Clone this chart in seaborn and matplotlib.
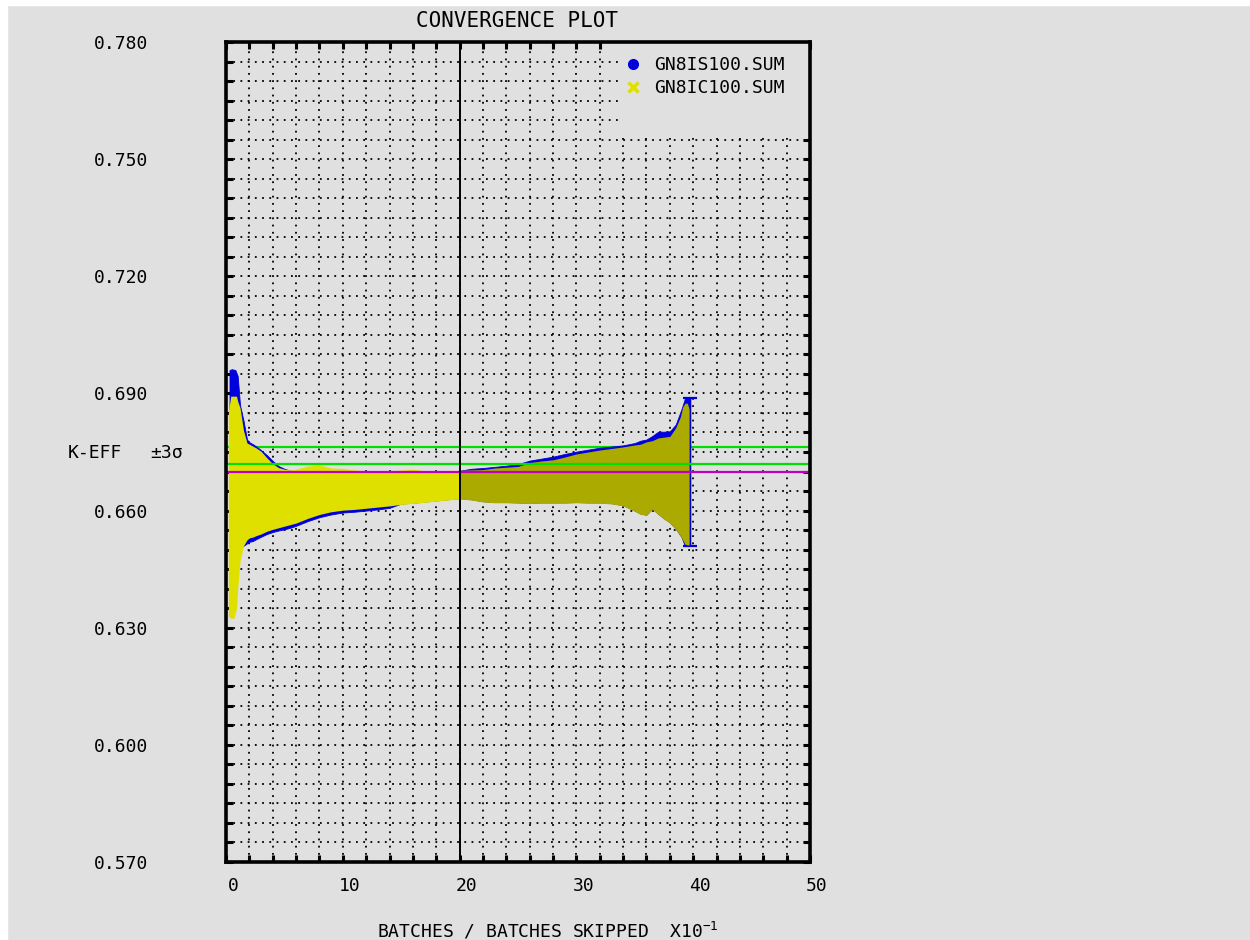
import numpy as np
import pandas as pd
import matplotlib
matplotlib.use("Agg")
import matplotlib.pyplot as plt
from matplotlib.lines import Line2D
from matplotlib.patches import Rectangle
from matplotlib.transforms import ScaledTranslation
import matplotlib.ticker as mticker
import seaborn as sns

# ---------------- data ----------------
series_names = ["GN8IS100.SUM", "GN8IC100.SUM"]

# GN8IS100.SUM  (blue) : k-eff  +/- 3 sigma envelope
is_x = [0.3, 0.5, 0.8, 1.0, 1.2, 1.5, 1.8, 2.0, 2.3, 2.6, 3.0, 3.5, 4.0, 4.5, 5.0, 5.5,
        6.0, 7.0, 8.0, 9.0, 10, 11, 12, 13, 14, 15, 16, 17, 18, 19, 20, 21, 22, 23, 24,
        25, 26, 27, 28, 29, 30, 31, 32, 33, 34, 35, 35.5, 36, 36.5, 37, 37.5, 38, 38.5,
        39.0, 39.3, 39.6, 39.75]
is_upper = [0.6960, 0.6962, 0.6960, 0.6945, 0.6870, 0.6830, 0.6782, 0.6775, 0.6770, 0.6764,
            0.6755, 0.6742, 0.6727, 0.6714, 0.6707, 0.6702, 0.6700, 0.6700, 0.6700, 0.6700,
            0.6700, 0.6700, 0.6700, 0.6700, 0.6700, 0.6700, 0.6700, 0.6700, 0.6700, 0.6700,
            0.6702, 0.6707, 0.6709, 0.6712, 0.6715, 0.6719, 0.6728, 0.6733, 0.6738, 0.6745,
            0.6751, 0.6756, 0.6761, 0.6764, 0.6767, 0.6773, 0.6779, 0.6782, 0.6791, 0.6802,
            0.6802, 0.6803, 0.6820, 0.6860, 0.6888, 0.6888, 0.6888]
is_lower = [0.6420, 0.6400, 0.6420, 0.6470, 0.6503, 0.6510, 0.6516, 0.6520, 0.6522, 0.6527,
            0.6533, 0.6540, 0.6545, 0.6549, 0.6552, 0.6556, 0.6561, 0.6573, 0.6583, 0.6590,
            0.6595, 0.6597, 0.6600, 0.6603, 0.6607, 0.6618, 0.6620, 0.6623, 0.6626, 0.6629,
            0.6632, 0.6629, 0.6624, 0.6622, 0.6622, 0.6621, 0.6620, 0.6621, 0.6621, 0.6621,
            0.6622, 0.6621, 0.6621, 0.6619, 0.6614, 0.6600, 0.6592, 0.6590, 0.6605, 0.6592,
            0.6580, 0.6570, 0.6554, 0.6532, 0.6509, 0.6509, 0.6509]

# GN8IC100.SUM  (yellow) : k-eff  +/- 3 sigma envelope
ic_x = [0.2, 0.4, 0.7, 0.9, 1.0, 1.2, 1.5, 1.8, 2.0, 2.3, 2.6, 3.0, 3.5, 4.0, 4.5, 5.0, 5.5,
        6.0, 7.0, 8.0, 9.0, 10, 11, 12, 13, 14, 15, 16, 17, 18, 19, 20, 21, 22, 23, 24,
        25, 26, 27, 28, 29, 30, 31, 32, 33, 34, 35, 35.5, 36, 36.5, 37, 37.5, 38, 38.5,
        38.9, 39.1, 39.3, 39.5, 39.65]
ic_upper = [0.6850, 0.6893, 0.6893, 0.6893, 0.6880, 0.6863, 0.6805, 0.6773, 0.6770, 0.6765,
            0.6760, 0.6752, 0.6735, 0.6720, 0.6710, 0.6706, 0.6704, 0.6706, 0.6714, 0.6717,
            0.6709, 0.6708, 0.6704, 0.6702, 0.6702, 0.6702, 0.6704, 0.6706, 0.6702, 0.6702,
            0.6702, 0.6703, 0.6704, 0.6705, 0.6709, 0.6711, 0.6713, 0.6723, 0.6727, 0.6730,
            0.6737, 0.6745, 0.6750, 0.6755, 0.6759, 0.6763, 0.6768, 0.6770, 0.6776, 0.6779,
            0.6786, 0.6788, 0.6790, 0.6812, 0.6840, 0.6865, 0.6875, 0.6875, 0.6860]
ic_lower = [0.6330, 0.6324, 0.6325, 0.6350, 0.6400, 0.6470, 0.6510, 0.6525, 0.6530, 0.6532,
            0.6536, 0.6540, 0.6547, 0.6552, 0.6556, 0.6560, 0.6564, 0.6568, 0.6580, 0.6590,
            0.6597, 0.6601, 0.6603, 0.6606, 0.6609, 0.6612, 0.6616, 0.6618, 0.6621, 0.6624,
            0.6627, 0.6630, 0.6627, 0.6622, 0.6620, 0.6620, 0.6619, 0.6618, 0.6619, 0.6619,
            0.6619, 0.6620, 0.6619, 0.6619, 0.6617, 0.6612, 0.6598, 0.6590, 0.6588, 0.6603,
            0.6590, 0.6578, 0.6568, 0.6552, 0.6535, 0.6525, 0.6514, 0.6512, 0.6512]

# reference lines
keff_upper_3s = 0.6764
keff_lower_3s = 0.6719
keff_mean = 0.6700
split_x = 20

x_ticks = [0, 10, 20, 30, 40, 50]
y_ticks = [0.570, 0.600, 0.630, 0.660, 0.690, 0.720, 0.750, 0.780]

# ---------------- style ----------------
BG = "#e0e0e0"
BLUE = "#0000dc"
YELLOW = "#e0e000"
OLIVE = "#aaaa00"
GREEN = "#00e000"
MAGENTA = "#c000c0"
FS = 13

sns.set_style("ticks", rc={"axes.facecolor": BG, "figure.facecolor": BG})
plt.rcParams["font.family"] = ["DejaVu Sans Mono", "DejaVu Sans"]
plt.rcParams["text.color"] = "black"
plt.rcParams["xtick.color"] = "black"
plt.rcParams["ytick.color"] = "black"
plt.rcParams["xtick.labelcolor"] = "black"
plt.rcParams["ytick.labelcolor"] = "black"
plt.rcParams["mathtext.fontset"] = "custom"
plt.rcParams["mathtext.rm"] = "DejaVu Sans Mono"
plt.rcParams["mathtext.it"] = "DejaVu Sans Mono"
plt.rcParams["mathtext.bf"] = "DejaVu Sans Mono"

W, H = 1250, 940
fig = plt.figure(figsize=(W / 100, H / 100), dpi=100)
fig.patch.set_facecolor(BG)
# thin white frame seen at top / left edges of the reference
fig.add_artist(Rectangle((0, 0), 7 / W, 1, transform=fig.transFigure, color="white", zorder=-5))
fig.add_artist(Rectangle((0, 1 - 5 / H), 1, 5 / H, transform=fig.transFigure, color="white", zorder=-5))

L, R, B, T = 226, 810, 862, 42
ax = fig.add_axes([L / W, 1 - B / H, (R - L) / W, (B - T) / H])
ax.set_facecolor(BG)
ax.set_axisbelow(True)

# ---------------- data marks ----------------
dis = pd.DataFrame({"x": is_x, "lo": is_lower, "hi": is_upper})
dic = pd.DataFrame({"x": ic_x, "lo": ic_lower, "hi": ic_upper})

ref_lines = pd.DataFrame({
    "x": [0, 50, 0, 50, 0, 50],
    "y": [keff_upper_3s, keff_upper_3s, keff_lower_3s, keff_lower_3s, keff_mean, keff_mean],
    "line": ["up", "up", "low", "low", "mean", "mean"],
})

# upper green line sits under the data
sns.lineplot(data=ref_lines[ref_lines.line == "up"], x="x", y="y", ax=ax,
             color=GREEN, lw=1.6, zorder=1.5, legend=False)

ax.fill_between(dis["x"], dis["lo"], dis["hi"], color=BLUE, lw=0.6, edgecolor=BLUE, zorder=2)
# last batch error bar with caps
ax.errorbar([is_x[-1]], [(is_upper[-1] + is_lower[-1]) / 2],
            yerr=[(is_upper[-1] - is_lower[-1]) / 2], fmt="none",
            ecolor=BLUE, elinewidth=1.6, capsize=5, capthick=1.6, zorder=2.2)

xi = np.array(ic_x)
ax.fill_between(dic["x"], dic["lo"], dic["hi"], where=xi <= split_x, interpolate=True,
                color=YELLOW, lw=0, zorder=2.5)
ax.fill_between(dic["x"], dic["lo"], dic["hi"], where=xi >= split_x, interpolate=True,
                color=OLIVE, lw=0, zorder=2.5)

# reference lines over the data
sns.lineplot(data=ref_lines[ref_lines.line == "low"], x="x", y="y", ax=ax,
             color=GREEN, lw=1.6, zorder=3, legend=False)
sns.lineplot(data=ref_lines[ref_lines.line == "mean"], x="x", y="y", ax=ax,
             color=MAGENTA, lw=1.6, zorder=3, legend=False)
ax.axvline(split_x, color="black", lw=1.4, zorder=3)
ax.set_xlabel("")
ax.set_ylabel("")
ax.set_xlim(0, 50)
ax.set_ylim(0.570, 0.780)

# blank area behind the legend (grid not drawn there in the reference)
ax.add_patch(Rectangle((33.6, 0.7555), 50 - 33.6, 0.780 - 0.7555, facecolor=BG,
                       edgecolor="none", zorder=1.2))

# ---------------- axes, grid, ticks ----------------
ax.xaxis.set_major_locator(mticker.FixedLocator(x_ticks))
ax.xaxis.set_minor_locator(mticker.MultipleLocator(2))
ax.yaxis.set_major_locator(mticker.FixedLocator(y_ticks))
ax.yaxis.set_minor_locator(mticker.MultipleLocator(0.005))
ax.set_xticklabels([str(v) for v in x_ticks])
ax.set_yticklabels([f"{v:.3f}" for v in y_ticks])

ax.grid(True, which="both", color="black", linestyle=(0, (1, 3)), linewidth=1.3)
ax.tick_params(which="both", direction="in", length=5, width=2.2, color="black",
               top=True, right=True, bottom=True, left=True)
ax.tick_params(axis="y", which="major", pad=56, labelsize=FS, labelcolor="black")
ax.tick_params(axis="x", which="major", pad=11, labelsize=FS, labelcolor="black")
for lab in ax.get_xticklabels():
    lab.set_transform(lab.get_transform() + ScaledTranslation(7 / 100, 0, fig.dpi_scale_trans))

for sp in ax.spines.values():
    sp.set_linewidth(2.6)
    sp.set_color("black")
    sp.set_zorder(4)

# ---------------- legend ----------------
handles = [
    Line2D([], [], linestyle="none", marker="o", markersize=7, color=BLUE),
    Line2D([], [], linestyle="none", marker="x", markersize=7, markeredgewidth=2.5, color=YELLOW),
]
leg = ax.legend(handles, series_names, loc="upper left",
                bbox_to_anchor=((613 - L) / (R - L), (B - 45) / (B - T)),
                fontsize=FS, frameon=False, borderaxespad=0.0, handletextpad=0.68,
                handlelength=1.0, borderpad=0.6, labelspacing=0.3)
for t in leg.get_texts():
    t.set_color("black")
leg.set_zorder(5)

# ---------------- texts ----------------
fig.text(517 / W, 1 - 21 / H, "CONVERGENCE PLOT", ha="center", va="center", fontsize=15,
         color="black")
fig.text(68 / W, 1 - 453 / H, "K-EFF", ha="left", va="center", fontsize=FS, color="black")
fig.text(150 / W, 1 - 453 / H, "±3σ", ha="left", va="center", fontsize=FS, color="black")
fig.text(548 / W, 1 - 931 / H, r"BATCHES / BATCHES SKIPPED  X10$^{\mathrm{-1}}$",
         ha="center", va="center", fontsize=FS, color="black")

fig.savefig("out.png", dpi=100, facecolor=fig.get_facecolor())
